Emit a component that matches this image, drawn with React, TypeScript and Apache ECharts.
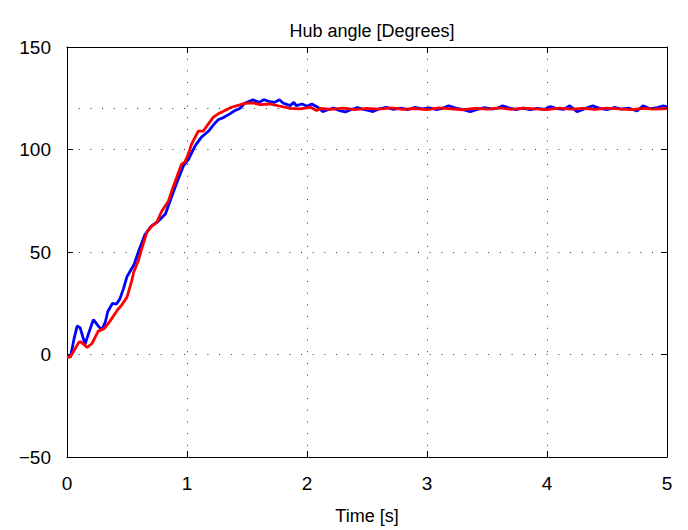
import React, { useEffect, useRef } from "react";
import * as echarts from "echarts";

// Measured hub angle (blue)
const measuredTime = [
  0, 0.03, 0.06, 0.085, 0.11, 0.15, 0.19, 0.22, 0.26, 0.29, 0.32, 0.34, 0.38, 0.41, 0.44, 0.47,
  0.5, 0.53, 0.56, 0.6, 0.65, 0.7, 0.76, 0.82, 0.86, 0.91, 0.97, 1.01, 1.07, 1.12, 1.18, 1.22,
  1.26, 1.3, 1.36, 1.4, 1.44, 1.48, 1.52, 1.55, 1.6, 1.64, 1.69, 1.73, 1.77, 1.8, 1.86, 1.89,
  1.91, 1.96, 2.0, 2.04, 2.09, 2.13, 2.18, 2.22, 2.27, 2.32, 2.37, 2.42, 2.47, 2.52, 2.55, 2.6,
  2.66, 2.72, 2.78, 2.84, 2.9, 2.96, 3.02, 3.08, 3.13, 3.18, 3.24, 3.3, 3.36, 3.42, 3.48, 3.54,
  3.59, 3.63, 3.68, 3.74, 3.8, 3.86, 3.92, 3.98, 4.03, 4.08, 4.14, 4.19, 4.25, 4.31, 4.38, 4.44,
  4.5, 4.56, 4.62, 4.68, 4.75, 4.8, 4.86, 4.92, 4.97, 5.0,
];
const measuredAngle = [
  -1, -1, 8, 14, 13, 5, 12, 17, 14, 12, 16, 21, 25, 24.5, 27, 32,
  38, 41, 44, 51, 58.5, 62.5, 65, 68.5, 75, 83, 92, 95, 102, 106, 109, 112,
  114.5, 115.5, 117.5, 119, 120, 122.5, 123.5, 124.2, 123, 124.3, 123.3, 123, 124.3, 122.7, 121.4, 123,
  121.4, 122.2, 121.1, 122.2, 120.6, 118.5, 119.5, 120.2, 119, 118.3, 119.5, 120.4, 119.6, 119, 118.5, 119.8,
  120.5, 119.6, 120.2, 119.4, 120.6, 119.8, 120.3, 119.5, 120.1, 121.3, 120.2, 119.4, 118.5, 119.6, 120.4, 119.7,
  120.2, 121.3, 120.3, 119.5, 120.2, 119.4, 120.1, 119.6, 121, 120, 119.6, 121.3, 118.5, 119.8, 121.3, 120.1,
  119.4, 120.5, 119.7, 120.2, 118.8, 121.3, 119.9, 120.4, 121.3, 120.8,
];

// Simulated hub angle (red)
const modelTime = [
  0, 0.03, 0.06, 0.097, 0.11, 0.14, 0.167, 0.21, 0.26, 0.31, 0.36, 0.42, 0.45, 0.5, 0.54, 0.555,
  0.594, 0.622, 0.664, 0.706, 0.747, 0.789, 0.844, 0.886, 0.93, 0.956, 0.983, 1.01, 1.04, 1.094, 1.136, 1.18,
  1.22, 1.26, 1.3, 1.37, 1.44, 1.48, 1.55, 1.61, 1.69, 1.775, 1.86, 1.94, 2.03, 2.08, 2.11, 2.2,
  2.3, 2.4, 2.5, 2.6, 2.7, 2.8, 2.9, 3.0, 3.1, 3.2, 3.3, 3.4, 3.5, 3.6, 3.7, 3.8,
  3.9, 4.0, 4.1, 4.2, 4.3, 4.4, 4.5, 4.6, 4.7, 4.8, 4.9, 5.0,
];
const modelAngle = [
  -1.5, -1, 2, 5.8, 6.3, 5, 3.4, 5.5, 11.4, 12.6, 16.4, 21.7, 23.7, 28, 36, 40,
  45.7, 51.4, 59.4, 62.6, 64.3, 69.9, 74.7, 82, 89, 92.9, 94, 97.5, 102.9, 109, 109, 112.6,
  115.8, 117.4, 118.5, 120.6, 121.8, 122.5, 122.7, 121.9, 122.2, 121.1, 120.1, 119.8, 120.6, 119, 120, 119.6,
  120.2, 119.5, 120.1, 119.7, 120.3, 119.6, 120, 119.5, 120.3, 119.8, 119.4, 120.1, 119.7, 120.3, 119.6, 120.2,
  119.8, 119.5, 120.2, 119.7, 120.1, 119.6, 120.2, 119.8, 119.5, 120.1, 119.7, 120,
];

const timeTicks = [0, 1, 2, 3, 4, 5];
const angleRange = [-50, 150];
const referenceAngle = 120;

const FONT = "'Liberation Sans', Arial, Helvetica, sans-serif";

const pairs = (xs: number[], ys: number[]) => xs.map((x, i) => [x, ys[i]]);

export default function App() {
  const ref = useRef<HTMLDivElement>(null);

  useEffect(() => {
    if (!ref.current) return;
    const chart = echarts.init(ref.current, undefined, { renderer: "svg" });

    const dotted = { color: "#333", width: 1, type: [1, 10.7] as any };
    const tickInside = { show: true, inside: true, length: 6, lineStyle: { color: "#000" } };

    chart.setOption({
      animation: false,
      backgroundColor: "#fff",
      title: {
        text: "Hub angle [Degrees]",
        left: 367,
        top: 17,
        textAlign: "center",
        textStyle: { fontFamily: FONT, fontSize: 18, fontWeight: "normal", color: "#000" },
      },
      grid: { left: 67, right: 21, top: 47, bottom: 69, containLabel: false },
      xAxis: [
        {
          type: "value",
          min: timeTicks[0],
          max: timeTicks[timeTicks.length - 1],
          interval: 1,
          position: "bottom",
          name: "Time [s]",
          nameLocation: "middle",
          nameGap: 50,
          nameTextStyle: { fontFamily: FONT, fontSize: 18, color: "#000" },
          axisLine: { show: true, onZero: false, lineStyle: { color: "#000", width: 1 } },
          axisTick: tickInside,
          axisLabel: { fontFamily: FONT, fontSize: 19, color: "#000", margin: 17 },
          splitLine: { show: true, lineStyle: dotted },
        },
        {
          type: "value",
          min: timeTicks[0],
          max: timeTicks[timeTicks.length - 1],
          interval: 1,
          position: "top",
          axisLine: { show: true, onZero: false, lineStyle: { color: "#000", width: 1 } },
          axisTick: tickInside,
          axisLabel: { show: false },
          splitLine: { show: false },
        },
      ],
      yAxis: [
        {
          type: "value",
          min: angleRange[0],
          max: angleRange[1],
          interval: 50,
          position: "left",
          axisLine: { show: true, onZero: false, lineStyle: { color: "#000", width: 1 } },
          axisTick: tickInside,
          axisLabel: {
            fontFamily: FONT,
            fontSize: 19,
            color: "#000",
            margin: 16,
            formatter: (v: number) => String(v).replace("-", "\u2212"),
          },
          splitLine: { show: true, lineStyle: dotted },
        },
        {
          type: "value",
          min: angleRange[0],
          max: angleRange[1],
          interval: 50,
          position: "right",
          axisLine: { show: true, onZero: false, lineStyle: { color: "#000", width: 1 } },
          axisTick: tickInside,
          axisLabel: { show: false },
          splitLine: { show: false },
        },
      ],
      series: [
        {
          name: "Measured",
          type: "line",
          data: pairs(measuredTime, measuredAngle),
          showSymbol: false,
          lineStyle: { color: "#0000ff", width: 2.8 },
          itemStyle: { color: "#0000ff" },
          z: 3,
        },
        {
          name: "Model",
          type: "line",
          data: pairs(modelTime, modelAngle),
          showSymbol: false,
          lineStyle: { color: "#ff0000", width: 2.8 },
          itemStyle: { color: "#ff0000" },
          z: 4,
          markLine: {
            silent: true,
            symbol: "none",
            label: { show: false },
            lineStyle: { color: "#222", width: 1, type: [1, 10.7] as any },
            data: [{ yAxis: referenceAngle }],
            z: 5,
          },
        },
      ],
    });

    return () => chart.dispose();
  }, []);

  return (
    <div
      ref={ref}
      style={{ position: "fixed", left: 0, top: 0, width: 688, height: 530 }}
    />
  );
}
